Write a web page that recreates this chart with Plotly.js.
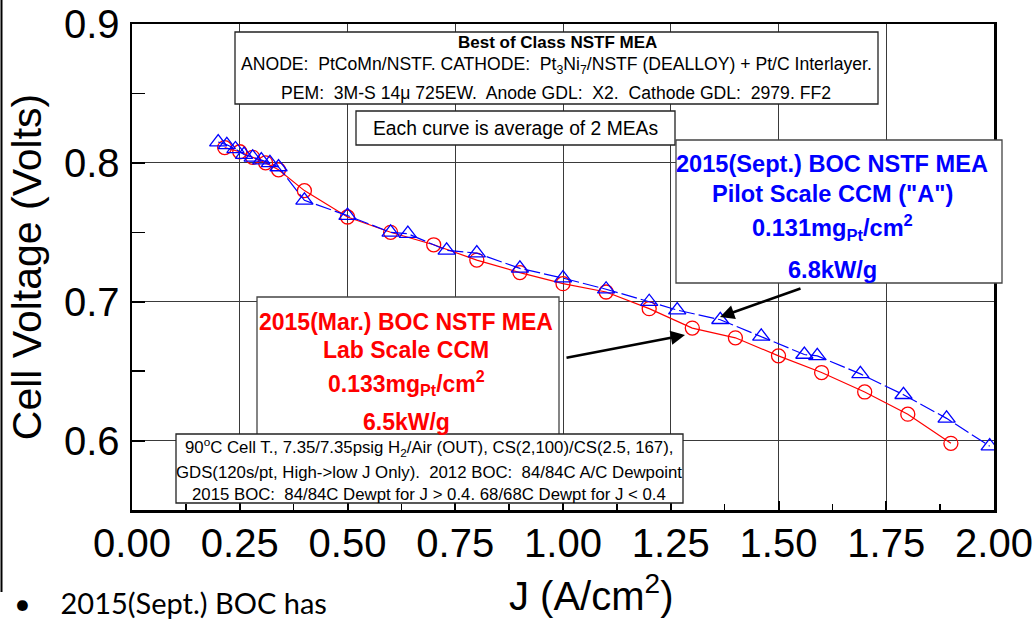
<!DOCTYPE html>
<html>
<head>
<meta charset="utf-8">
<script src="https://cdn.plot.ly/plotly-3.0.1.min.js"></script>
<style>html,body{margin:0;padding:0;background:#fff;}#chart{width:1036px;height:619px;}</style>
</head>
<body>
<div id="chart"></div>
<script>
// ---- data ----
var redJ = [0.215,0.25,0.28,0.31,0.34,0.40,0.50,0.60,0.70,0.80,0.90,1.00,1.10,1.20,1.30,1.40,1.50,1.60,1.70,1.80,1.90];
var redV = [0.811,0.808,0.804,0.800,0.795,0.780,0.761,0.750,0.741,0.730,0.721,0.713,0.707,0.695,0.681,0.674,0.661,0.649,0.635,0.619,0.598];
var blueJ = [0.20,0.22,0.24,0.26,0.28,0.30,0.32,0.34,0.40,0.50,0.60,0.64,0.73,0.80,0.90,1.00,1.10,1.20,1.265,1.365,1.46,1.56,1.59,1.69,1.79,1.89,1.99];
var blueV = [0.815,0.813,0.810,0.806,0.804,0.802,0.800,0.797,0.773,0.762,0.750,0.749,0.737,0.735,0.724,0.717,0.709,0.700,0.694,0.687,0.675,0.662,0.661,0.648,0.633,0.616,0.596];
var xTickVals = [0,0.25,0.5,0.75,1.0,1.25,1.5,1.75,2.0];
var xTickText = ["0.00","0.25","0.50","0.75","1.00","1.25","1.50","1.75","2.00"];
var yTickVals = [0.6,0.7,0.8,0.9];
var yTickText = ["0.6","0.7","0.8","0.9"];

var xTitle = "J (A/cm<sup>2</sup>)";
var yTitle = "Cell Voltage (Volts)";
var topBoxLines = ["<b>Best of Class NSTF MEA</b>",
  "ANODE:  PtCoMn/NSTF. CATHODE:  Pt<sub>3</sub>Ni<sub>7</sub>/NSTF (DEALLOY) + Pt/C Interlayer.",
  "PEM:  3M-S 14\u03bc 725EW.  Anode GDL:  X2.  Cathode GDL:  2979. FF2"];
var avgNote = "Each curve is average of 2 MEAs";
var blueLines = ["2015(Sept.) BOC NSTF MEA","Pilot Scale CCM (\"A\")","0.131mg<sub>Pt</sub>/cm<sup>2</sup>","6.8kW/g"];
var redLines = ["2015(Mar.) BOC NSTF MEA","Lab Scale CCM","0.133mg<sub>Pt</sub>/cm<sup>2</sup>","6.5kW/g"];
var condLines = ["90<sup>o</sup>C Cell T., 7.35/7.35psig H<sub>2</sub>/Air (OUT), CS(2,100)/CS(2.5, 167),",
  "GDS(120s/pt, High->low J Only).  2012 BOC:  84/84C A/C Dewpoint",
  "2015 BOC:  84/84C Dewpt for J > 0.4. 68/68C Dewpt for J < 0.4"];
var bulletText = "\u2022    2015(Sept.) BOC has";

// ---- layout helpers ----
var W = 1036, H = 619, ML = 132, MR = 42, MT = 24, MB = 109;
var PW = W - ML - MR, PH = H - MT - MB;
function px(x){ return (x - ML) / PW; }
function py(y){ return 1 - (y - MT) / PH; }
var FONT = "Liberation Sans, Arial, sans-serif";

var shapes = [];
var annotations = [];
function box(x0,y0,x1,y1,col){
  shapes.push({type:'rect', xref:'paper', yref:'paper', x0:px(x0), x1:px(x1), y0:py(y1), y1:py(y0),
    fillcolor:'#fff', line:{color:col||'#333', width:1.3}, layer:'above'});
}
function txt(t, x, y, size, color, xanchor){
  annotations.push({text:t, xref:'paper', yref:'paper', x:px(x), y:py(y), xanchor:xanchor||'center', yanchor:'middle',
    showarrow:false, font:{family:FONT, size:size, color:color||'#000'}});
}

// boxes (drawn in stacking order)
box(235,32,878,104,'#222');
box(356,111,675,145,'#222');
box(676,140,1002,283,'#444');
box(257,297,559,442,'#444');
box(176,434,683,503,'#222');

txt(topBoxLines[0], 557, 43, 17);
txt(topBoxLines[1], 556, 66, 17.6);
txt(topBoxLines[2], 556, 93, 17.6);
txt(avgNote, 515, 128, 19.3);
var blueY = [164,194,228,270];
blueLines.forEach(function(t,i){ txt('<b>'+t+'</b>', 832, blueY[i], 23.6, '#0000ff'); });
var redY = [322,350,383,422];
redLines.forEach(function(t,i){ txt('<b>'+t+'</b>', 406, redY[i], 23, '#ff0000'); });
var condY = [447,472,494];
condLines.forEach(function(t,i){ txt(t, 429, condY[i], 16.8); });

// x axis title (placed as in the reference, right of plot centre)
txt(xTitle, 591, 593, 40);

// arrows
annotations.push({xref:'paper', yref:'paper', x:px(720), y:py(317), ax:82, ay:-29, text:'', showarrow:true,
  arrowhead:2, arrowsize:1.1, arrowwidth:2.6, arrowcolor:'#000', standoff:0});
annotations.push({xref:'paper', yref:'paper', x:px(685), y:py(335), ax:-120, ay:23, text:'', showarrow:true,
  arrowhead:2, arrowsize:1.1, arrowwidth:2.6, arrowcolor:'#000', standoff:0});

// bullet text at bottom
annotations.push({text:bulletText, xref:'paper', yref:'paper', x:px(12), y:py(602), xanchor:'left', yanchor:'middle',
  showarrow:false, font:{family:'Lato, Open Sans, sans-serif', size:29, color:'#000'}});

// slide left edge line
shapes.push({type:'line', xref:'paper', yref:'paper', x0:px(1.5), x1:px(1.5), y0:py(0), y1:py(592), line:{color:'#000', width:2}, layer:'above'});

var traces = [
  {x: redJ, y: redV, mode:'lines+markers', type:'scatter', name:'2015(Mar.)',
   line:{color:'#ff0000', width:1.2},
   marker:{symbol:'circle-open', size:14, color:'#ff0000', line:{width:1.3}}},
  {x: blueJ, y: blueV, mode:'lines+markers', type:'scatter', name:'2015(Sept.)',
   line:{color:'#0000ff', width:1.2, dash:'16px,4px'},
   marker:{symbol:'triangle-up-open', size:15, color:'#0000ff', line:{width:1.3}}}
];

var layout = {
  width: W, height: H,
  margin:{l:ML, r:MR, t:MT, b:MB, pad:0},
  paper_bgcolor:'#fff', plot_bgcolor:'#fff',
  showlegend:false,
  font:{family:FONT, color:'#000'},
  xaxis:{range:[0,2.0], tickvals:xTickVals, ticktext:xTickText, ticks:'inside', ticklen:9, tickwidth:2, tickcolor:'#000',
    showgrid:true, gridcolor:'#3a3a3a', gridwidth:1, zeroline:false,
    showline:true, linecolor:'#000', linewidth:2.5, mirror:true,
    tickfont:{family:FONT, size:40, color:'#000'}, ticklabelstandoff:-4,
    minor:{dtick:0.125, tick0:0, ticks:'inside', ticklen:6, tickwidth:1.5, tickcolor:'#000', showgrid:false}},
  yaxis:{range:[0.55,0.9], tickvals:yTickVals, ticktext:yTickText, ticks:'inside', ticklen:13, tickwidth:2, tickcolor:'#000',
    showgrid:true, gridcolor:'#3a3a3a', gridwidth:1, zeroline:false,
    showline:true, linecolor:'#000', linewidth:2.5, mirror:true,
    tickfont:{family:FONT, size:40, color:'#000'}, ticklabelstandoff:2,
    minor:{dtick:0.05, tick0:0.55, ticks:'inside', ticklen:13, tickwidth:1.5, tickcolor:'#000', showgrid:false},
    title:{text:yTitle, font:{family:FONT, size:41, color:'#000'}, standoff:10}},
  shapes: shapes,
  annotations: annotations
};

Plotly.newPlot('chart', traces, layout, {displayModeBar:false, staticPlot:true});
</script>
</body>
</html>
